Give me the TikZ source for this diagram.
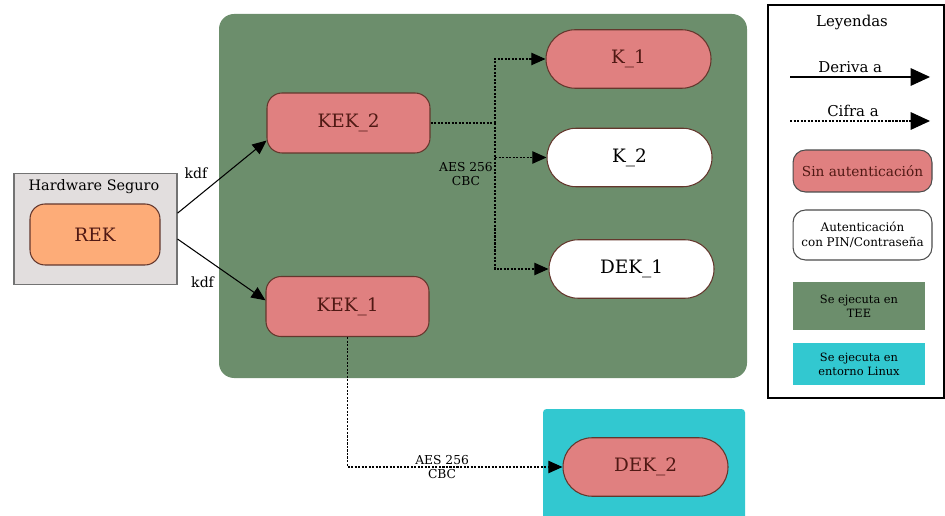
\documentclass[tikz,border=0pt]{standalone}
\usepackage{fontspec}
\setmainfont{DejaVu Serif}
\usepackage{xcolor}
\usetikzlibrary{calc}
\usetikzlibrary{arrows.meta}
\definecolor{teegreen}{RGB}{108,142,108}
\definecolor{linuxcyan}{RGB}{50,200,208}
\definecolor{keypink}{RGB}{224,128,128}
\definecolor{keyedge}{RGB}{100,55,45}
\definecolor{keytext}{RGB}{80,25,20}
\definecolor{rekorange}{RGB}{253,172,120}
\definecolor{hwgray}{RGB}{226,222,222}
\tikzset{
	kek/.style={draw=keyedge, fill=keypink, text=keytext, line width=0.6pt,
			rounded corners=0.3cm, minimum width=3.26cm, minimum height=1.2cm,
			font=\fontsize{10.5}{12}\selectfont},
	pill/.style={draw=keyedge, line width=0.6pt, rounded corners=0.58cm,
			minimum width=3.3cm, minimum height=1.17cm, font=\fontsize{10.5}{12}\selectfont},
	small/.style={font=\fontsize{7}{8}\selectfont, inner sep=1pt, align=center},
	deriva/.style={-{Triangle[length=8pt,width=7pt]}, line width=0.6pt},
	cifra/.style={deriva, dash pattern=on 1.2pt off 0.8pt},
	leybox/.style={draw=black!70, line width=0.6pt, rounded corners=0.25cm,
			minimum width=2.78cm, align=center, inner sep=1pt}
}

\begin{document}
\begin{tikzpicture}[x=0.02cm, y=-0.02cm]
	\useasboundingbox (0,0) rectangle (945,516);
	% zonas
	\fill[teegreen, rounded corners=0.3cm] (219,14) rectangle (747,378);
	\fill[linuxcyan, rounded corners=2pt] (543,409) rectangle (745,540);
	\node[draw=black!55, fill=hwgray, line width=0.6pt, minimum width=3.26cm, minimum height=2.22cm] (hw) at (95.5,229) {};
	\node[font=\fontsize{8.2}{10}\selectfont] (hwtext) at (94,187) {Hardware Seguro};

	% claves
	\node[kek, fill=rekorange, minimum width=2.6cm, minimum height=1.22cm] (rek) at (95,234.5) {REK};
	\node[kek] (kek2) at (348.5,123) {KEK\_2};
	\node[kek] (kek1) at (347.5,306.5) {KEK\_1};
	\node[pill, fill=keypink, text=keytext] (k1) at (628.5,59) {K\_1};
	\node[pill, fill=white] (k2) at (629.5,157.5) {K\_2};
	\node[pill, fill=white] (dek1) at (631.5,269) {DEK\_1};
	\node[pill, fill=keypink, text=keytext] (dek2) at (645.5,467) {DEK\_2};

	% derivacion
	\draw[deriva] ([yshift=9pt]hw.east) -- node[small, pos=.4, above left=2pt, font=\fontsize{8}{9}\selectfont]{kdf} ([yshift=-10pt]kek2.west);
	\draw[deriva] ([yshift=-5.7pt]hw.east) -- node[small, pos=.5, below left=3pt, font=\fontsize{8}{9}\selectfont]{kdf} ([yshift=3.5pt]kek1.west);

	% cifrado
	\coordinate (split) at (495,123);
	\draw[cifra, -] (kek2.east) -- (split);
	\draw[cifra] (split) |- (k1.west);
	\draw[cifra] (split) |- (dek1.west);
	\draw[cifra] (split |- k2.west) -- (k2.west);
	\node[small] (aes1) at (466,174) {AES 256\\CBC};
	\draw[cifra] (kek1.south) |- node[small, pos=.72]{AES 256\\CBC} (dek2.west);

	% leyenda
	\draw[line width=0.9pt] (768,5) rectangle (944,398);
	\node[font=\fontsize{8.5}{10}\selectfont] (leyendas) at (852,22) {Leyendas};
	\coordinate (d0) at (790,77);
	\coordinate (d1) at (930,77);
	\draw[deriva, -{Triangle[length=11pt,width=10pt]}] (d0) -- node[pos=.43, above=1pt, font=\fontsize{8.5}{10}\selectfont, inner sep=1pt]{Deriva a} (d1);
	\coordinate (c0) at (790,121);
	\coordinate (c1) at (930,121);
	\draw[cifra, -{Triangle[length=11pt,width=10pt]}] (c0) -- node[pos=.45, above=1pt, font=\fontsize{8.5}{10}\selectfont, inner sep=1pt]{Cifra a} (c1);
	\node[leybox, fill=keypink, text=keytext, minimum height=0.84cm, font=\fontsize{7.8}{9}\selectfont] (sin) at (862.5,171) {Sin autenticación};
	\node[leybox, fill=white, minimum height=1cm, font=\fontsize{6.8}{8.5}\selectfont] (auth) at (862.5,235) {Autenticación\\con PIN/Contraseña};
	\node[fill=teegreen, minimum width=2.64cm, minimum height=0.96cm, align=center, font=\fontsize{6.5}{8}\selectfont] (teeley) at (859,306) {Se ejecuta en\\TEE};
	\node[fill=linuxcyan, minimum width=2.64cm, minimum height=0.84cm, align=center, font=\fontsize{6.5}{8}\selectfont] (linuxley) at (859,364) {Se ejecuta en\\entorno Linux};
\end{tikzpicture}
\end{document}
